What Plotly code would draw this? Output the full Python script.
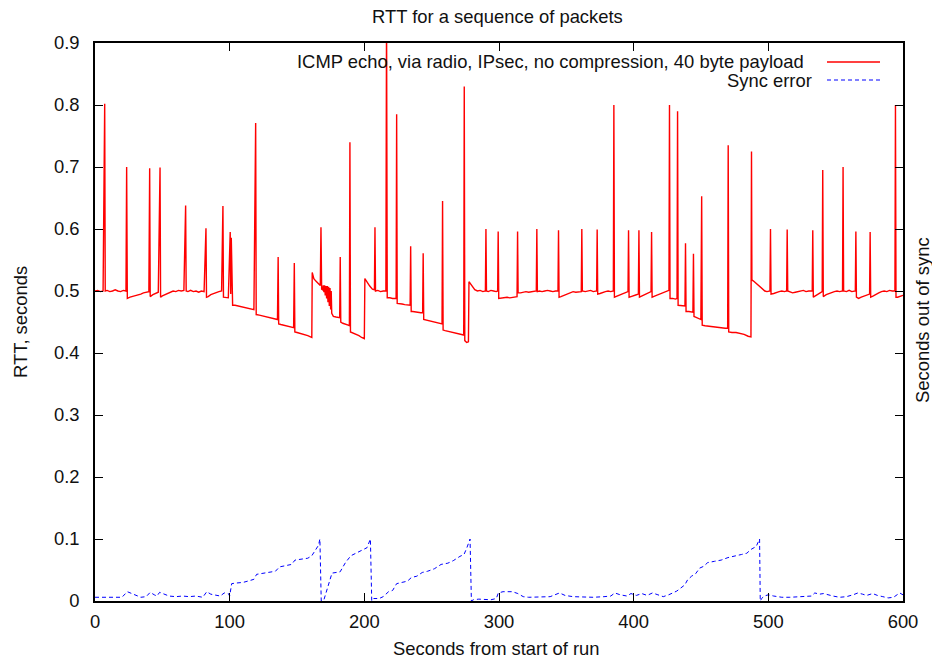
import plotly.graph_objects as go

# ---------------- data ----------------
# RTT samples: (seconds from start, RTT seconds)
rtt_points = [
    (0, 0.500), (2, 0.501), (4, 0.499), (6, 0.500), (7.2, 0.802), (7.6, 0.500), (9, 0.501), (11, 0.499),
    (13, 0.500), (15, 0.502), (17, 0.500), (19, 0.499), (21, 0.501), (23, 0.500), (23.5, 0.700), (24, 0.488),
    (26, 0.490), (28, 0.491), (30, 0.493), (32, 0.494), (34, 0.495), (36, 0.497), (38, 0.498), (40, 0.499),
    (40.6, 0.698), (41, 0.491), (43, 0.494), (45, 0.496), (47, 0.498), (48.3, 0.699), (48.7, 0.490), (50, 0.492),
    (52, 0.494), (54, 0.496), (56, 0.498), (58, 0.500), (60, 0.499), (62, 0.501), (64, 0.500), (66, 0.501),
    (67.3, 0.638), (67.7, 0.500), (69, 0.499), (71, 0.501), (73, 0.499), (75, 0.500), (77, 0.498), (79, 0.500),
    (81, 0.499), (82.4, 0.601), (82.8, 0.490), (84, 0.491), (86, 0.494), (88, 0.496), (90, 0.497), (92, 0.499),
    (94, 0.500), (95, 0.637), (95.4, 0.490), (97, 0.489), (99, 0.489), (100.4, 0.595), (100.8, 0.495),
    (101.2, 0.586), (101.7, 0.490), (102.2, 0.477),
    (104, 0.477), (106, 0.476), (108, 0.476), (110, 0.475), (112, 0.474), (114, 0.473), (116, 0.472),
    (118, 0.470), (119.3, 0.771), (119.7, 0.462), (122, 0.461), (124, 0.460), (126, 0.459), (128, 0.458),
    (130, 0.457), (132, 0.456), (134, 0.455), (135.5, 0.454), (136, 0.555), (136.4, 0.447), (138, 0.446),
    (140, 0.445), (142, 0.444), (144, 0.443), (146, 0.442), (147.5, 0.441), (148, 0.545), (148.4, 0.434),
    (150, 0.433), (152, 0.432), (154, 0.430), (156, 0.429), (158, 0.428), (160, 0.426), (161, 0.425),
    (161.3, 0.530), (162.5, 0.520), (164, 0.516), (166, 0.511), (167.3, 0.509), (167.8, 0.603), (168.3, 0.503),
    (169, 0.502), (169.5, 0.509), (170, 0.498), (170.5, 0.509), (171, 0.493), (171.5, 0.508), (172, 0.488),
    (172.5, 0.508), (173, 0.482), (173.5, 0.507), (174, 0.476), (174.5, 0.505), (175, 0.470), (175.4, 0.500),
    (175.8, 0.464), (177, 0.459), (179, 0.458), (181, 0.457), (181.7, 0.457), (182.1, 0.555), (182.5, 0.450),
    (184, 0.448), (186, 0.447), (188, 0.445), (188.9, 0.444), (189.3, 0.740), (189.7, 0.434), (192, 0.432),
    (194, 0.430), (196, 0.428), (198, 0.425), (200, 0.423), (200.4, 0.520), (202, 0.514), (204, 0.508),
    (206, 0.503), (207.5, 0.502), (207.9, 0.603), (208.3, 0.500), (210, 0.501), (212, 0.499), (214, 0.500),
    (216, 0.500), (216.5, 0.950), (217, 0.489), (219, 0.489), (221, 0.488), (223.6, 0.488), (224, 0.785),
    (224.4, 0.480), (226, 0.480), (228, 0.479), (230, 0.478), (232, 0.477), (234, 0.477), (234.4, 0.572),
    (234.8, 0.467), (236, 0.467), (238, 0.466), (240, 0.466), (242, 0.465), (243.3, 0.465), (243.7, 0.561),
    (244.1, 0.454), (246, 0.453), (248, 0.452), (250, 0.451), (252, 0.450), (254, 0.449), (256, 0.448),
    (257.7, 0.447), (258.1, 0.645), (258.5, 0.437), (260, 0.436), (262, 0.435), (264, 0.434), (266, 0.433),
    (268, 0.432), (270, 0.431), (272, 0.430), (273.8, 0.429), (274.2, 0.830), (274.6, 0.420), (276, 0.417),
    (277.3, 0.418), (277.7, 0.515), (279, 0.511), (280.5, 0.506), (282, 0.502), (284, 0.500), (286, 0.501),
    (288, 0.499), (289.9, 0.500), (290.3, 0.600), (290.7, 0.500), (292, 0.499), (294, 0.501), (296, 0.500),
    (298, 0.499), (299, 0.500), (299.4, 0.596), (299.8, 0.488), (302, 0.489), (304, 0.489), (306, 0.490),
    (308, 0.489), (310, 0.490), (312, 0.491), (313.4, 0.491), (313.8, 0.596), (314.2, 0.497), (316, 0.497),
    (318, 0.498), (320, 0.499), (322, 0.498), (324, 0.499), (326, 0.500), (327.7, 0.500), (328.1, 0.600),
    (328.5, 0.499), (330, 0.500), (332, 0.499), (334, 0.500), (336, 0.501), (338, 0.500), (340, 0.499),
    (342, 0.500), (343.8, 0.500), (344.2, 0.598), (344.6, 0.490), (346, 0.491), (348, 0.493), (350, 0.495),
    (352, 0.497), (355, 0.499), (357, 0.498), (359, 0.499), (361.1, 0.499), (361.5, 0.600), (361.9, 0.500),
    (364, 0.499), (366, 0.500), (368, 0.501), (370, 0.499), (372.5, 0.500), (372.9, 0.599), (373.3, 0.495),
    (375, 0.496), (377, 0.498), (379, 0.499), (381, 0.500), (383, 0.499), (384.9, 0.500), (385.3, 0.800),
    (385.7, 0.490), (388, 0.492), (390, 0.494), (392, 0.496), (394, 0.498), (395.8, 0.499), (396.2, 0.598),
    (396.6, 0.490), (398, 0.491), (400, 0.493), (402, 0.494), (403.5, 0.495), (403.9, 0.598), (404.3, 0.490),
    (406, 0.492), (408, 0.494), (410, 0.496), (412, 0.498), (412.9, 0.499), (413.3, 0.595), (413.7, 0.490),
    (416, 0.492), (418, 0.494), (420, 0.496), (422, 0.498), (424.4, 0.500), (426.2, 0.501), (426.6, 0.800),
    (427, 0.488), (429, 0.488), (431, 0.487), (432.2, 0.488), (432.6, 0.790), (433, 0.477), (435, 0.477),
    (437, 0.476), (438.1, 0.476), (438.5, 0.577), (438.9, 0.467), (441, 0.467), (443, 0.466), (444, 0.466),
    (444.4, 0.560), (444.8, 0.459), (446, 0.458), (448, 0.456), (449.9, 0.454), (450.5, 0.653), (450.9, 0.445),
    (453, 0.444), (456, 0.443), (459, 0.442), (462, 0.441), (465, 0.441), (468, 0.440), (469.8, 0.440),
    (470.2, 0.735), (470.6, 0.434), (473, 0.433), (476, 0.433), (479, 0.432), (482, 0.430), (485, 0.427),
    (487.1, 0.426), (487.5, 0.725), (487.8, 0.518), (489, 0.516), (491, 0.512), (493, 0.508), (495, 0.504),
    (497.4, 0.500), (499, 0.499), (501.2, 0.500), (501.6, 0.600), (502, 0.495), (504, 0.496), (506, 0.498),
    (508, 0.499), (510, 0.500), (512, 0.499), (513.6, 0.500), (514, 0.599), (514.4, 0.500), (516, 0.499),
    (518, 0.497), (520, 0.498), (522, 0.499), (524, 0.500), (526, 0.501), (528, 0.499), (530, 0.500),
    (532.6, 0.500), (533, 0.598), (533.4, 0.490), (535, 0.492), (537, 0.495), (539, 0.498), (540, 0.499),
    (540.4, 0.695), (540.8, 0.491), (543, 0.494), (545, 0.496), (547, 0.498), (549, 0.499), (551, 0.500),
    (553, 0.499), (555.1, 0.500), (555.5, 0.700), (555.9, 0.500), (558, 0.499), (560, 0.501), (562, 0.499),
    (564.6, 0.500), (565, 0.596), (565.4, 0.490), (567, 0.488), (569, 0.490), (571, 0.492), (573, 0.494),
    (575.2, 0.495), (575.6, 0.595), (576, 0.490), (578, 0.492), (580, 0.495), (582, 0.497), (584, 0.499),
    (586, 0.500), (588, 0.499), (590, 0.501), (592, 0.500), (594, 0.500), (594.4, 0.800), (594.8, 0.490),
    (596, 0.490), (598, 0.492), (600, 0.493),
]

# Sync error samples: (seconds from start, seconds out of sync)
sync_points = [
    (0, 0.006), (5, 0.006), (10, 0.005), (15, 0.006), (20, 0.006), (24, 0.015), (27, 0.012), (30, 0.010),
    (34, 0.006), (38, 0.007), (41, 0.014), (44, 0.010), (46, 0.008), (48, 0.014), (51, 0.011), (55, 0.008),
    (60, 0.007), (65, 0.008), (70, 0.007), (75, 0.008), (80, 0.006), (83, 0.015), (86, 0.011), (90, 0.009),
    (93, 0.008), (96, 0.013), (99, 0.012), (100, 0.008), (101.5, 0.028), (105, 0.029), (110, 0.030),
    (115, 0.033), (118, 0.035), (120, 0.043), (125, 0.045), (130, 0.046), (134, 0.048), (137, 0.055),
    (142, 0.057), (146, 0.059), (148.5, 0.066), (153, 0.068), (158, 0.069), (161, 0.073), (164, 0.083),
    (166, 0.090), (167, 0.100), (168, 0.000), (170, 0.002), (173, 0.025), (176, 0.045), (182, 0.047),
    (186, 0.062), (190, 0.073), (196, 0.079), (202, 0.086), (204.5, 0.100), (205.5, 0.000), (207, 0.004),
    (211, 0.004), (214, 0.007), (218, 0.015), (221, 0.017), (224, 0.028), (228, 0.030), (232, 0.032),
    (235, 0.038), (239, 0.040), (243, 0.046), (247, 0.048), (252, 0.052), (257, 0.059), (262, 0.061),
    (266, 0.065), (271, 0.072), (274, 0.075), (276, 0.085), (278.5, 0.100), (279.5, 0.000), (281, 0.002),
    (285, 0.003), (290, 0.003), (294, 0.002), (298, 0.004), (299.5, 0.013), (303, 0.015), (310, 0.015),
    (314, 0.012), (318, 0.007), (322, 0.006), (330, 0.006), (338, 0.007), (345, 0.013), (349, 0.009),
    (355, 0.007), (362, 0.006), (370, 0.006), (378, 0.007), (383, 0.008), (386, 0.013), (390, 0.010),
    (395, 0.008), (398, 0.012), (402, 0.009), (406, 0.012), (410, 0.009), (414, 0.013), (418, 0.010),
    (422, 0.007), (426, 0.010), (429, 0.013), (432, 0.016), (435, 0.021), (438, 0.026), (440, 0.034),
    (443, 0.040), (446, 0.044), (449, 0.053), (452, 0.056), (455, 0.062), (460, 0.064), (465, 0.066),
    (470, 0.070), (475, 0.072), (480, 0.075), (484, 0.077), (487, 0.083), (491, 0.088), (493.5, 0.100),
    (494, 0.000), (495, 0.004), (497, 0.008), (500, 0.010), (504, 0.008), (510, 0.006), (516, 0.006),
    (522, 0.007), (528, 0.008), (532, 0.008), (534.5, 0.013), (538, 0.011), (541, 0.012), (544, 0.010),
    (548, 0.008), (553, 0.006), (558, 0.007), (563, 0.010), (566.5, 0.013), (570, 0.011), (573, 0.009),
    (577.5, 0.012), (581, 0.009), (585, 0.007), (589, 0.005), (593, 0.006), (597.5, 0.013), (600, 0.010),
]

rtt_seconds = [p[0] for p in rtt_points]
rtt_values = [p[1] for p in rtt_points]
sync_seconds = [p[0] for p in sync_points]
sync_values = [p[1] for p in sync_points]

x_ticks = [0, 100, 200, 300, 400, 500, 600]
y_ticks = [0, 0.1, 0.2, 0.3, 0.4, 0.5, 0.6, 0.7, 0.8, 0.9]
y_tick_labels = ["0", "0.1", "0.2", "0.3", "0.4", "0.5", "0.6", "0.7", "0.8", "0.9"]

rtt_name = "ICMP echo, via radio, IPsec, no compression, 40 byte payload"
sync_name = "Sync error"

# ---------------- figure ----------------
FONT = "Liberation Sans, Arial, Helvetica, sans-serif"
FS = 18.4
TXT = "#111"
W, H = 932, 663
L, R, T, B = 95, 29, 43, 62
PW, PH = W - L - R, H - T - B


def px(xp):
    """window pixel x -> paper coordinate"""
    return (xp - L) / PW


def py(yp):
    """window pixel y -> paper coordinate"""
    return (H - B - yp) / PH


fig = go.Figure()
fig.add_trace(go.Scatter(x=rtt_seconds, y=rtt_values, mode="lines", name=rtt_name,
                         line=dict(color="#ff0000", width=1.4), showlegend=False))
fig.add_trace(go.Scatter(x=sync_seconds, y=sync_values, mode="lines", name=sync_name,
                         line=dict(color="#0000ff", width=1, dash="4px,3px"), showlegend=False))

axis_common = dict(showline=True, linecolor="black", linewidth=1.5, mirror="ticks",
                   ticks="inside", ticklen=8, tickcolor="black", tickwidth=1,
                   showgrid=False, zeroline=False,
                   tickfont=dict(family=FONT, size=FS, color=TXT))

fig.update_xaxes(range=[0, 600], tickvals=x_ticks, ticktext=[str(v) for v in x_ticks],
                 ticklabelstandoff=3, **axis_common)
fig.update_yaxes(range=[0, 0.9], tickvals=y_ticks, ticktext=y_tick_labels,
                 ticklabelstandoff=10, **axis_common)

label_font = dict(family=FONT, size=FS, color=TXT)
annotations = [
    dict(text="RTT for a sequence of packets", x=px(497), y=py(17), xref="paper", yref="paper",
         showarrow=False, xanchor="center", yanchor="middle", font=label_font),
    dict(text="Seconds from start of run", x=px(496), y=py(648), xref="paper", yref="paper",
         showarrow=False, xanchor="center", yanchor="middle", font=label_font),
    dict(text="RTT, seconds", x=px(20), y=py(322), xref="paper", yref="paper", textangle=-90,
         showarrow=False, xanchor="center", yanchor="middle", font=label_font),
    dict(text="Seconds out of sync", x=px(922), y=py(320), xref="paper", yref="paper", textangle=-90,
         showarrow=False, xanchor="center", yanchor="middle", font=label_font),
    dict(text=rtt_name, x=px(806), y=py(61.5), xref="paper", yref="paper",
         showarrow=False, xanchor="right", yanchor="middle", font=label_font),
    dict(text=sync_name, x=px(814), y=py(80), xref="paper", yref="paper",
         showarrow=False, xanchor="right", yanchor="middle", font=label_font),
]

shapes = [
    dict(type="line", xref="paper", yref="paper", x0=px(827), x1=px(880), y0=py(62), y1=py(62),
         line=dict(color="#ff0000", width=1.3)),
    dict(type="line", xref="paper", yref="paper", x0=px(827), x1=px(880), y0=py(80), y1=py(80),
         line=dict(color="#0000ff", width=1, dash="4px,3px")),
]

fig.update_layout(width=W, height=H, margin=dict(l=L, r=R, t=T, b=B, autoexpand=False),
                  paper_bgcolor="white", plot_bgcolor="white",
                  font=dict(family=FONT, size=FS, color=TXT),
                  annotations=annotations, shapes=shapes, showlegend=False)

# remove the default page margin so the figure fills the window exactly
page_fix = ("document.body.style.margin='0';document.body.style.overflow='hidden';"
            "document.documentElement.style.overflow='hidden';")
fig.write_html("out.html", post_script=page_fix, config={"displayModeBar": False})
